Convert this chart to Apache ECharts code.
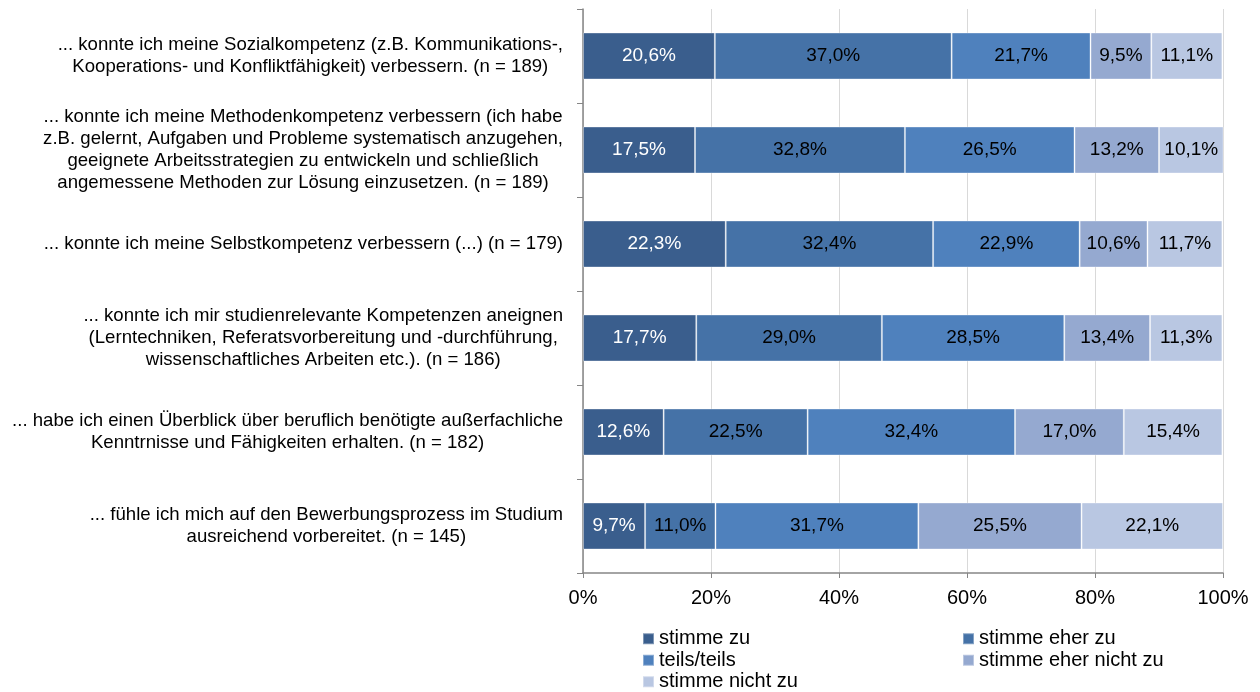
<!DOCTYPE html>
<html>
<head>
<meta charset="utf-8">
<script src="https://cdn.jsdelivr.net/npm/echarts@6/dist/echarts.min.js"></script>
<style>
  html, body { margin: 0; padding: 0; background: #fff; }
  #main { width: 1260px; height: 692px; }
</style>
</head>
<body>
<div id="main"></div>
<script>
// Kategorien (von oben nach unten)
var categories = [
  '... konnte ich meine Sozialkompetenz (z.B. Kommunikations-,\nKooperations- und Konfliktfähigkeit) verbessern. (n = 189)',
  '... konnte ich meine Methodenkompetenz verbessern (ich habe\nz.B. gelernt, Aufgaben und Probleme systematisch anzugehen,\ngeeignete Arbeitsstrategien zu entwickeln und schließlich\nangemessene Methoden zur Lösung einzusetzen. (n = 189)',
  '... konnte ich meine Selbstkompetenz verbessern (...) (n = 179)',
  '... konnte ich mir studienrelevante Kompetenzen aneignen\n(Lerntechniken, Referatsvorbereitung und -durchführung,\nwissenschaftliches Arbeiten etc.). (n = 186)',
  '... habe ich einen Überblick über beruflich benötigte außerfachliche\nKenntrnisse und Fähigkeiten erhalten. (n = 182)',
  '... fühle ich mich auf den Bewerbungsprozess im Studium\nausreichend vorbereitet. (n = 145)'
];

var seriesNames = ['stimme zu', 'stimme eher zu', 'teils/teils', 'stimme eher nicht zu', 'stimme nicht zu'];

// Werte in Prozent
var stimmeZu        = [20.6, 17.5, 22.3, 17.7, 12.6, 9.7];
var stimmeEherZu    = [37.0, 32.8, 32.4, 29.0, 22.5, 11.0];
var teilsTeils      = [21.7, 26.5, 22.9, 28.5, 32.4, 31.7];
var stimmeEherNicht = [9.5, 13.2, 10.6, 13.4, 17.0, 25.5];
var stimmeNichtZu   = [11.1, 10.1, 11.7, 11.3, 15.4, 22.1];

var xTicks = [0, 20, 40, 60, 80, 100];

var colors = ['#3a5e8d', '#4572a7', '#4f81bd', '#95a9d0', '#b9c7e2'];
var labelColors = ['#ffffff', '#000000', '#000000', '#000000', '#000000'];
var values = [stimmeZu, stimmeEherZu, teilsTeils, stimmeEherNicht, stimmeNichtZu];

var font = 'Liberation Sans, Arial, sans-serif';

var series = [];
for (var i = 0; i < seriesNames.length; i++) {
  series.push({
    name: seriesNames[i],
    type: 'bar',
    stack: 'total',
    barWidth: '50%',
    data: values[i],
    itemStyle: {
      color: colors[i],
      borderColor: 'rgba(255,255,255,0.35)',
      borderWidth: 1
    },
    label: {
      show: true,
      position: 'inside',
      color: labelColors[i],
      fontFamily: font,
      fontSize: 19,
      formatter: function (p) {
        return p.value.toFixed(1).replace('.', ',') + '%';
      }
    }
  });
}

// Legende in zwei Spalten wie im Original
var legendStyle = {
  orient: 'vertical',
  top: 628,
  padding: 0,
  height: 70,
  itemWidth: 11,
  itemHeight: 11,
  itemGap: 0,
  icon: 'rect',
  textStyle: { fontFamily: font, fontSize: 20, lineHeight: 21.5, color: '#000' }
};

var option = {
  animation: false,
  color: colors,
  grid: {
    left: 583,
    right: 37,
    top: 9,
    bottom: 119
  },
  legend: [
    Object.assign({ data: ['stimme zu', 'teils/teils', 'stimme nicht zu'], left: 642 }, legendStyle),
    Object.assign({ data: ['stimme eher zu', 'stimme eher nicht zu'], left: 962 }, legendStyle)
  ],
  xAxis: {
    type: 'value',
    min: xTicks[0],
    max: xTicks[xTicks.length - 1],
    interval: 20,
    axisLine: { show: true, lineStyle: { color: '#868686', width: 1.5 } },
    axisTick: { show: true, length: 5, lineStyle: { color: '#868686' } },
    axisLabel: {
      color: '#000',
      fontFamily: font,
      fontSize: 20,
      margin: 15,
      formatter: '{value}%'
    },
    splitLine: { show: true, lineStyle: { color: '#d9d9d9' } }
  },
  yAxis: {
    type: 'category',
    inverse: true,
    data: categories,
    axisLine: { show: true, lineStyle: { color: '#868686', width: 1.5 } },
    axisTick: { show: true, length: 6, lineStyle: { color: '#868686' } },
    axisLabel: {
      margin: 20,
      color: '#000',
      fontFamily: font,
      fontSize: 18.6,
      lineHeight: 22,
      // jede Zeile mittig im Block, Block rechtsbündig
      formatter: function (v) {
        return v.split('\n').map(function (l) { return '{c|' + l + '}'; }).join('\n');
      },
      rich: {
        c: { align: 'center', fontFamily: font, fontSize: 18.6, lineHeight: 22, color: '#000' }
      }
    }
  },
  series: series
};

var chart = echarts.init(document.getElementById('main'));
chart.setOption(option);
window.addEventListener('resize', function () { chart.resize(); });
</script>
</body>
</html>
